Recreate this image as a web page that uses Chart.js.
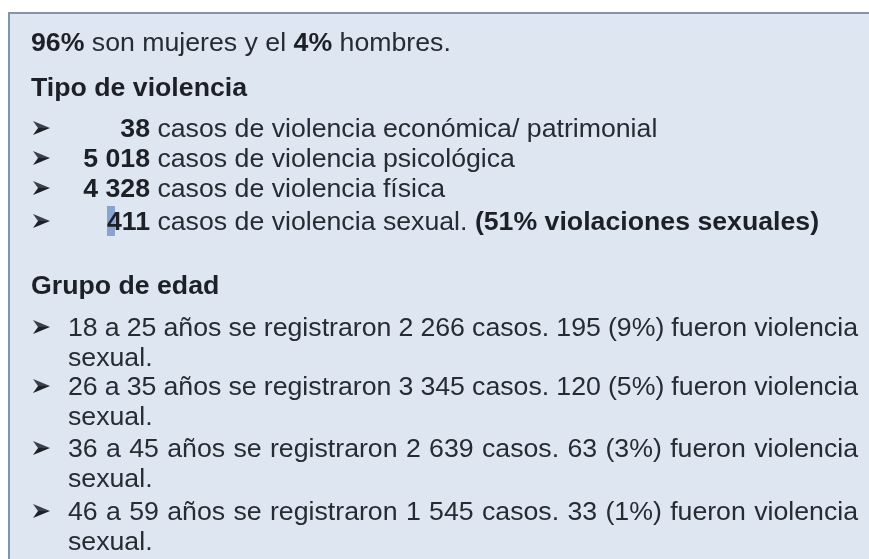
<!DOCTYPE html>
<html>
<head>
<meta charset="utf-8">
<script src="https://cdn.jsdelivr.net/npm/chart.js@4.4.0/dist/chart.umd.min.js"></script>
<style>
  html, body { margin: 0; padding: 0; background: #ffffff; width: 869px; height: 559px; overflow: hidden; }
  #wrap { position: relative; width: 869px; height: 559px; }
  #bg { position: absolute; left: 0; top: 0; }
  .ln { position: absolute; left: 0; white-space: nowrap; font-family: "Liberation Sans", Arial, sans-serif;
        font-size: 26.7px; line-height: 30px; color: #272b32; height: 30px; }
  b { font-weight: bold; color: #1d2026; }
  .arrow { position: absolute; width: 18px; height: 14px; }
  .num { display: inline-block; text-align: right; font-weight: bold; color: #1d2026; }
  .hl { background: linear-gradient(to right, rgba(70,110,180,0.55) 0, rgba(70,110,180,0.55) 55%, transparent 55%); }
</style>
</head>
<body>
<div id="wrap">
  <canvas id="bg" width="869" height="559"></canvas>
  <div id="text"></div>
</div>
<script>
// ---- data ----
const sexLabels = ['mujeres', 'hombres'];
const sexPct = [96, 4];
const violenceTypes = ['económica/ patrimonial', 'psicológica', 'física', 'sexual'];
const violenceCases = [38, 5018, 4328, 411];
const rapePct = 51;
const ageGroups = ['18 a 25', '26 a 35', '36 a 45', '46 a 59'];
const ageCases = [2266, 3345, 2639, 1545];
const ageSexualCases = [195, 120, 63, 33];
const ageSexualPct = [9, 5, 3, 1];
const headings = ['Tipo de violencia', 'Grupo de edad'];

function fmt(n) { return String(n).replace(/\B(?=(\d{3})+(?!\d))/g, ' '); }

// ---- background panel drawn by Chart.js ----
const panelPlugin = {
  id: 'panel',
  beforeDraw(chart) {
    const ctx = chart.ctx;
    ctx.save();
    ctx.fillStyle = '#ffffff';
    ctx.fillRect(0, 0, chart.width, chart.height);
    ctx.fillStyle = '#dde6f1';
    ctx.fillRect(9, 13, chart.width, chart.height);
    ctx.strokeStyle = '#8394ab';
    ctx.lineWidth = 2;
    ctx.beginPath();
    ctx.moveTo(9, chart.height + 5);
    ctx.lineTo(9, 13);
    ctx.lineTo(chart.width + 5, 13);
    ctx.stroke();
    ctx.restore();
  }
};
new Chart(document.getElementById('bg'), {
  type: 'bar',
  data: { labels: [], datasets: [] },
  options: {
    responsive: false, animation: false, events: [],
    plugins: { legend: { display: false }, tooltip: { enabled: false }, title: { display: false } },
    scales: { x: { display: false }, y: { display: false } }
  },
  plugins: [panelPlugin]
});

// ---- text ----
const T = document.getElementById('text');
function line(y, x, html, w) {
  const d = document.createElement('div');
  d.className = 'ln';
  d.style.top = (y - 15) + 'px';
  d.style.left = x + 'px';
  d.innerHTML = html;
  T.appendChild(d);
  if (w) {
    // justify to the given width by adjusting word spacing
    const natural = d.getBoundingClientRect().width;
    const spaces = (d.textContent.match(/ /g) || []).length;
    if (spaces) d.style.wordSpacing = ((w - natural) / spaces) + 'px';
  }
}
const NS = 'http://www.w3.org/2000/svg';
function arrow(y) {
  const s = document.createElementNS(NS, 'svg');
  s.setAttribute('class', 'arrow');
  s.setAttribute('viewBox', '0 0 18 14');
  s.style.left = '33px';
  s.style.top = (y - 7) + 'px';
  const p1 = document.createElementNS(NS, 'path');
  p1.setAttribute('d', 'M0,0 L17,7 L5,7 Z');
  p1.setAttribute('fill', '#3a3f4a');
  const p2 = document.createElementNS(NS, 'path');
  p2.setAttribute('d', 'M5,7 L17,7 L0,14 Z');
  p2.setAttribute('fill', '#1d2027');
  s.appendChild(p1); s.appendChild(p2);
  T.appendChild(s);
}

line(42, 31, `<b>${sexPct[0]}%</b> son ${sexLabels[0]} y el <b>${sexPct[1]}%</b> ${sexLabels[1]}.`);
line(87, 31, `<b>${headings[0]}</b>`);

const tipoY = [128, 158, 188, 221];
violenceTypes.forEach((t, i) => {
  arrow(tipoY[i]);
  let num = fmt(violenceCases[i]);
  if (i === 3) num = `<span class="hl">${num[0]}</span>${num.slice(1)}`;
  let extra = i === 3 ? ` <b>(${rapePct}% violaciones sexuales)</b>` : '';
  line(tipoY[i], 60, `<span class="num" style="width:90px">${num}</span> casos de violencia ${t}${i === 3 ? '.' : ''}${extra}`);
});

line(285, 31, `<b>${headings[1]}</b>`);
const ageY = [327, 386, 448, 511];
ageGroups.forEach((g, i) => {
  arrow(ageY[i]);
  line(ageY[i], 68, `${g} años se registraron ${fmt(ageCases[i])} casos. ${ageSexualCases[i]} (${ageSexualPct[i]}%) fueron violencia`, 790);
  line(ageY[i] + 30, 68, 'sexual.');
});
</script>
</body>
</html>
